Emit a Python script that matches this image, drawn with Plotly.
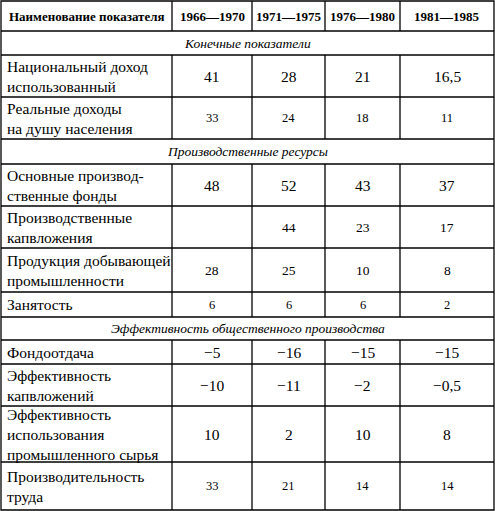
import plotly.graph_objects as go

headers = ["Наименование показателя", "1966—1970", "1971—1975", "1976—1980", "1981—1985"]
row_labels = [
    ("section", "Конечные показатели"),
    ("data", "Национальный доход<br>использованный"),
    ("data", "Реальные доходы<br>на душу населения"),
    ("section", "Производственные ресурсы"),
    ("data", "Основные производ-<br>ственные фонды"),
    ("data", "Производственные<br>капвложения"),
    ("data", "Продукция добывающей<br>промышленности"),
    ("data", "Занятость"),
    ("section", "Эффективность общественного производства"),
    ("data", "Фондоотдача"),
    ("data", "Эффективность<br>капвложений"),
    ("data", "Эффективность<br>использования<br>промышленного сырья"),
    ("data", "Производительность<br>труда"),
]
v_1966 = ["", "41", "33", "", "48", "", "28", "6", "", "−5", "−10", "10", "33"]
v_1971 = ["", "28", "24", "", "52", "44", "25", "6", "", "−16", "−11", "2", "21"]
v_1976 = ["", "21", "18", "", "43", "23", "10", "6", "", "−15", "−2", "10", "14"]
v_1981 = ["", "16,5", "11", "", "37", "17", "8", "2", "", "−15", "−0,5", "8", "14"]

col_x = [1, 172, 252, 325, 400, 494]
row_y = [1, 31, 55, 97, 139, 164, 206, 248, 292, 317, 340, 364, 406, 462, 510]
num_size = [0, 15, 12, 0, 15, 13, 13, 12, 0, 15, 15, 15, 12]

FONT = "Liberation Serif, Times New Roman, serif"
shapes, ann = [], []
line = dict(color="black", width=1.3)
shapes.append(dict(type="rect", x0=col_x[0], x1=col_x[-1], y0=row_y[0], y1=row_y[-1], line=line))
for y in row_y[1:-1]:
    shapes.append(dict(type="line", x0=col_x[0], x1=col_x[-1], y0=y, y1=y, line=line))

def vlines(y0, y1):
    for x in col_x[1:-1]:
        shapes.append(dict(type="line", x0=x, x1=x, y0=y0, y1=y1, line=line))

vlines(row_y[0], row_y[1])
for i, h in enumerate(headers):
    ann.append(dict(x=(col_x[i] + col_x[i + 1]) / 2, y=(row_y[0] + row_y[1]) / 2, text="<b>" + h + "</b>",
                    showarrow=False, font=dict(family=FONT, size=13, color="black")))

cols = [v_1966, v_1971, v_1976, v_1981]
for r, (kind, lab) in enumerate(row_labels):
    y0, y1 = row_y[r + 1], row_y[r + 2]
    yc = (y0 + y1) / 2
    if kind == "section":
        ann.append(dict(x=(col_x[0] + col_x[-1]) / 2, y=yc, text="<i>" + lab + "</i>", showarrow=False,
                        font=dict(family=FONT, size=13.5, color="black")))
        continue
    vlines(y0, y1)
    ann.append(dict(x=col_x[0] + 4, y=yc, text=lab, showarrow=False, xanchor="left", align="left",
                    font=dict(family=FONT, size=15.5, color="black")))
    for c, vals in enumerate(cols):
        if vals[r]:
            ann.append(dict(x=(col_x[c + 1] + col_x[c + 2]) / 2, y=yc, text=vals[r], showarrow=False,
                            font=dict(family=FONT, size=num_size[r] + 0.5, color="black")))

fig = go.Figure()
fig.update_layout(
    width=495, height=511, margin=dict(l=0, r=0, t=0, b=0),
    plot_bgcolor="white", paper_bgcolor="white",
    xaxis=dict(range=[0, 495], visible=False, fixedrange=True),
    yaxis=dict(range=[511, 0], visible=False, fixedrange=True),
    shapes=shapes, annotations=ann, showlegend=False,
)
fig.write_html("out.html", config={"displayModeBar": False},
               post_script="document.body.style.margin='0';document.body.style.overflow='hidden';")
